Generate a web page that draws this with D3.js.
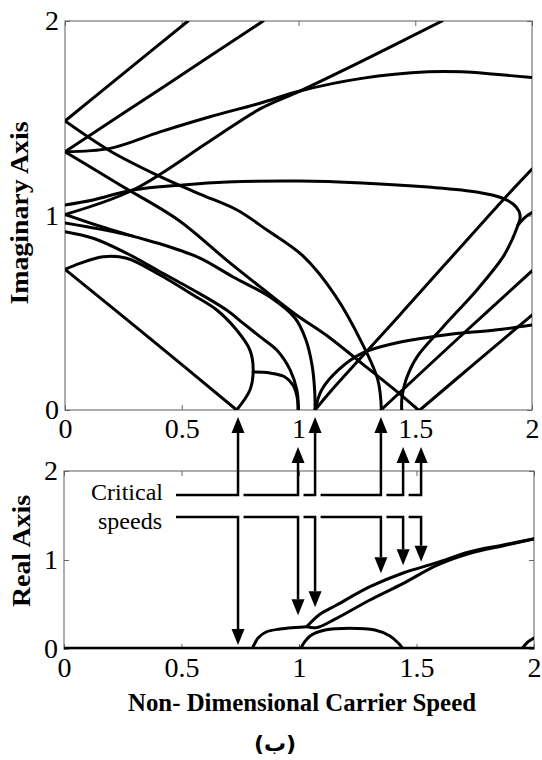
<!DOCTYPE html>
<html>
<head>
<meta charset="utf-8">
<script src="https://cdn.jsdelivr.net/npm/d3@7"></script>
<style>
  body { margin: 0; background: #fff; }
  .tick text { font-family: "Liberation Serif", "Times New Roman", "DejaVu Serif", serif; font-size: 28px; fill: #000; }
  .tick line { stroke: #666; }
  .curve { fill: none; stroke: #000; stroke-width: 3; stroke-linejoin: round; stroke-linecap: round; }
  .axisTitle { font-family: "Liberation Serif", "Times New Roman", "DejaVu Serif", serif; font-weight: bold; font-size: 26px; }
  .note { font-family: "Liberation Serif", "Times New Roman", "DejaVu Serif", serif; font-size: 24px; }
</style>
</head>
<body>
<div id="chart"></div>
<script>
// ---- data ----
var xTicks = [0, 0.5, 1, 1.5, 2];
var xTickLabels = ["0", "0.5", "1", "1.5", "2"];
var yTicks = [0, 1, 2];

// imaginary part (upper panel), [speed, value]
var imC1 = [[0,1.486],[0.26,1.74],[0.527,2]];
var imC2 = [[0,1.486],[0.193,1.332],[0.394,1.208],[0.578,1.11],[0.737,1.028],[0.865,0.925],[1.019,0.792],[1.156,0.591],[1.272,0.344],[1.34,0.154],[1.355,0]];
var imC3 = [[0,1.328],[0.42,1.66],[0.849,2]];
var imC4 = [[0,1.328],[0.193,1.345],[0.407,1.43],[0.621,1.508],[0.835,1.577],[1.006,1.64],[1.271,1.705],[1.556,1.739],[1.699,1.739],[1.842,1.726],[2.0,1.709]];
var imC5 = [[0,1.005],[0.291,1.131],[0.621,1.383],[0.835,1.548],[1.006,1.64],[1.272,1.794],[1.615,2.0]];
var imC7 = [[0,1.328],[0.236,1.157],[0.485,0.977],[0.692,0.771],[0.835,0.634],[0.985,0.494],[1.128,0.377],[1.271,0.24],[1.413,0.103],[1.513,0]];
var imC8 = [[0,1.054],[0.12,1.08],[0.291,1.131],[0.505,1.157],[0.694,1.172],[1.006,1.177],[1.272,1.167],[1.555,1.146],[1.769,1.12],[1.872,1.09],[1.919,1.059],[1.944,1.023],[1.949,0.987],[1.94,0.951],[1.914,0.874],[1.876,0.787],[1.764,0.617],[1.619,0.427],[1.507,0.272],[1.46,0.154],[1.443,0.062],[1.442,0]];
var imShort = [[1.94,0.951],[1.97,0.99],[2.0,1.015]];
var imX = [[1.071,0],[1.135,0.093],[1.435,0.49],[1.876,1.08],[2.0,1.239]];
var imF = [[1.071,0],[1.099,0.103],[1.171,0.206],[1.271,0.291],[1.413,0.343],[1.627,0.386],[1.842,0.411],[2.0,0.437]];
var imZ1 = [[1.353,0],[1.676,0.36],[2.0,0.715]];
var imZ2 = [[1.52,0],[1.76,0.245],[2.0,0.488]];
var imEps = [[0,0.917],[0.121,0.883],[0.264,0.806],[0.407,0.711],[0.549,0.617],[0.692,0.514],[0.764,0.445],[0.835,0.377],[0.907,0.308],[0.964,0.206],[0.993,0.103],[1.0,0]];
var imZeta = [[0,0.723],[0.064,0.754],[0.164,0.788],[0.264,0.78],[0.407,0.694],[0.549,0.591],[0.65,0.514],[0.735,0.411],[0.792,0.308],[0.806,0.206],[0.792,0.103],[0.735,0]];
var imEta = [[0,0.723],[0.37,0.362],[0.735,0]];
var imS = [[0.806,0.195],[0.878,0.19],[0.942,0.17],[0.976,0.129],[0.994,0.067],[0.998,0]];
var imGamma = [[0,1.006],[0.15,0.945],[0.291,0.894],[0.437,0.843],[0.578,0.781],[0.72,0.684],[0.878,0.581],[0.985,0.473],[1.032,0.36],[1.058,0.231],[1.069,0.103],[1.071,0]];
var imGamma2 = [[0,0.962],[0.15,0.93],[0.291,0.894]];

// real part (lower panel)
var reZero = [[0,0],[2,0]];
var reArcA = [[0.8,0],[0.804,0.022],[0.826,0.124],[0.86,0.191],[0.919,0.225],[0.983,0.242],[1.033,0.251]];
var reUpper = [[1.033,0.251],[1.089,0.39],[1.16,0.494],[1.302,0.7],[1.443,0.854],[1.586,0.97],[1.728,1.093],[1.869,1.169],[2.0,1.24]];
var reLower = [[1.033,0.251],[1.075,0.24],[1.16,0.345],[1.302,0.551],[1.444,0.738],[1.586,0.94],[1.728,1.075],[1.869,1.16],[2.0,1.235]];
var reArcB = [[1.01,0],[1.011,0.022],[1.047,0.146],[1.111,0.213],[1.217,0.233],[1.323,0.213],[1.387,0.146],[1.437,0.022],[1.44,0]];
var reArcC = [[1.948,0],[1.974,0.079],[2.0,0.124]];

// critical speed annotations
var criticalSpeeds = [0.741, 0.998, 1.071, 1.353, 1.448, 1.525];
var upBelowLabel = [false, true, false, false, true, true];
var downTips = [0.045, 0.38, 0.47, 0.85, 0.94, 0.98];

var width = 542, height = 760;

var svg = d3.select("#chart").append("svg")
  .attr("width", width)
  .attr("height", height);

var xTop = d3.scaleLinear().domain([0, 2]).range([65, 532]);
var yTop = d3.scaleLinear().domain([0, 2]).range([410, 21]);
var xBot = d3.scaleLinear().domain([0, 2]).range([64, 534]);
var yBot = d3.scaleLinear().domain([0, 2]).range([649, 471]);

function drawPanel(xs, ys, id) {
  var x0 = xs.range()[0], x1 = xs.range()[1], y0 = ys.range()[0], y1 = ys.range()[1];
  svg.append("clipPath").attr("id", id)
    .append("rect").attr("x", x0).attr("y", y1).attr("width", x1 - x0).attr("height", y0 - y1);

  svg.append("rect")
    .attr("x", x0).attr("y", y1).attr("width", x1 - x0).attr("height", y0 - y1)
    .attr("fill", "none").attr("stroke", "#777").attr("stroke-width", 1.2);

  svg.append("g")
    .attr("transform", `translate(0,${y0})`)
    .call(d3.axisBottom(xs).tickValues(xTicks).tickFormat((d, i) => xTickLabels[i]).tickSize(-5).tickSizeOuter(0).tickPadding(8))
    .call(g => g.select(".domain").remove());
  svg.append("g")
    .attr("transform", `translate(0,${y1})`)
    .call(d3.axisTop(xs).tickValues(xTicks).tickFormat("").tickSize(-5).tickSizeOuter(0))
    .call(g => g.select(".domain").remove());
  svg.append("g")
    .attr("transform", `translate(${x0},0)`)
    .call(d3.axisLeft(ys).tickValues(yTicks).tickFormat(d3.format("d")).tickSize(-5).tickSizeOuter(0).tickPadding(6))
    .call(g => g.select(".domain").remove());
  svg.append("g")
    .attr("transform", `translate(${x1},0)`)
    .call(d3.axisRight(ys).tickValues(yTicks).tickFormat("").tickSize(-5).tickSizeOuter(0))
    .call(g => g.select(".domain").remove());
  svg.selectAll(".tick text").attr("font-family", null);
}

drawPanel(xTop, yTop, "clipTop");
drawPanel(xBot, yBot, "clipBot");

var lineTop = d3.line().x(d => xTop(d[0])).y(d => yTop(d[1])).curve(d3.curveCatmullRom.alpha(0.5));
var lineBot = d3.line().x(d => xBot(d[0])).y(d => yBot(d[1])).curve(d3.curveCatmullRom.alpha(0.5));

var topCurves = [imC1, imC2, imC3, imC4, imC5, imC7, imC8, imShort, imX, imF, imZ1, imZ2, imEps, imZeta, imEta, imS, imGamma, imGamma2];
svg.append("g").attr("clip-path", "url(#clipTop)")
  .selectAll("path").data(topCurves).enter().append("path")
  .attr("class", "curve").attr("d", lineTop);

var botCurves = [reArcA, reUpper, reLower, reArcB, reArcC];
var gBot = svg.append("g").attr("clip-path", "url(#clipBot)");
gBot.selectAll("path.curve").data(botCurves).enter().append("path")
  .attr("class", "curve").attr("d", lineBot);
gBot.append("path").datum(reZero)
  .attr("fill", "none").attr("stroke", "#000").attr("stroke-width", 4.5)
  .attr("d", lineBot);

// critical speed arrows
var yUp = 495, yDown = 517, startX = 176, gap = 5.5, headW = 13, headL = 16;
var ga = svg.append("g");
criticalSpeeds.forEach(function(s, i) {
  var x = xTop(s);
  var xs = i === 0 ? startX : xTop(criticalSpeeds[i - 1]) + gap;
  var tipUp = upBelowLabel[i] ? yTop(0) + 37 : yTop(0) + 7;
  ga.append("path")
    .attr("d", `M${xs},${yUp}H${x}V${tipUp + headL}`)
    .attr("fill", "none").attr("stroke", "#000").attr("stroke-width", 2.5);
  ga.append("path")
    .attr("d", `M${x},${tipUp}L${x - headW / 2},${tipUp + headL}L${x + headW / 2},${tipUp + headL}Z`)
    .attr("fill", "#000");
  var tipDown = yBot(downTips[i]);
  ga.append("path")
    .attr("d", `M${xs},${yDown}H${x}V${tipDown - headL}`)
    .attr("fill", "none").attr("stroke", "#000").attr("stroke-width", 2.5);
  ga.append("path")
    .attr("d", `M${x},${tipDown}L${x - headW / 2},${tipDown - headL}L${x + headW / 2},${tipDown - headL}Z`)
    .attr("fill", "#000");
});

svg.append("text")
  .attr("class", "note")
  .attr("x", 127).attr("y", 500)
  .attr("text-anchor", "middle")
  .text("Critical");
svg.append("text")
  .attr("class", "note")
  .attr("x", 130).attr("y", 529)
  .attr("text-anchor", "middle")
  .text("speeds");

// axis titles
svg.append("text")
  .attr("class", "axisTitle")
  .attr("transform", "translate(28,213) rotate(-90)")
  .attr("text-anchor", "middle")
  .attr("textLength", 183).attr("lengthAdjust", "spacingAndGlyphs")
  .text("Imaginary Axis");

svg.append("text")
  .attr("class", "axisTitle")
  .attr("transform", "translate(30,551) rotate(-90)")
  .attr("text-anchor", "middle")
  .attr("textLength", 112).attr("lengthAdjust", "spacingAndGlyphs")
  .text("Real Axis");

svg.append("text")
  .attr("class", "axisTitle")
  .attr("x", 302).attr("y", 711)
  .attr("text-anchor", "middle")
  .style("font-size", "25px")
  .attr("textLength", 348).attr("lengthAdjust", "spacingAndGlyphs")
  .text("Non- Dimensional Carrier Speed");

svg.append("text")
  .attr("x", 275).attr("y", 751)
  .attr("text-anchor", "middle")
  .style("font-family", "DejaVu Sans, sans-serif").style("font-size", "22px").style("font-weight", "bold")
  .text("(ب)");
</script>
</body>
</html>
